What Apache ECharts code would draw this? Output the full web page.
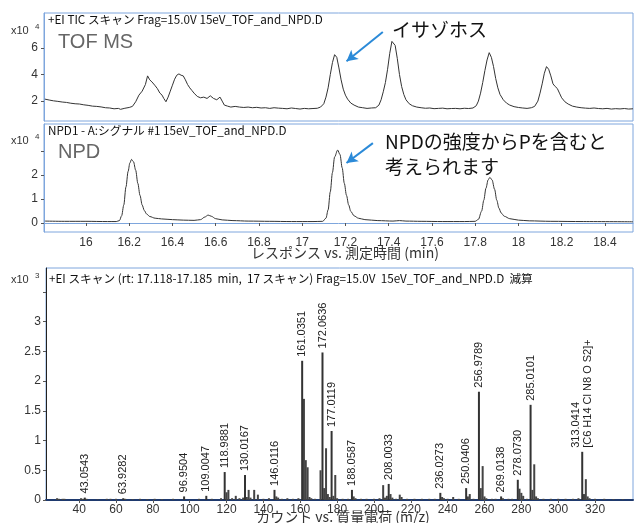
<!DOCTYPE html>
<html>
<head>
<meta charset="utf-8">
<script src="https://cdn.jsdelivr.net/npm/echarts@6/dist/echarts.min.js"></script>
<style>
  html,body{margin:0;padding:0;background:#fff;}
  #chart{width:634px;height:523px;}
</style>
</head>
<body>
<div id="chart"></div>
<script>
// TIC (TOF MS) trace, x10^4 : [min, response]
const tofTrace = [
  [15.81,2.15],[15.83,2.08],[15.85,2.02],[15.87,1.98],[15.89,1.93],[15.91,1.9],[15.93,1.84],[15.95,1.8],
  [15.97,1.78],[15.99,1.72],[16.01,1.68],[16.03,1.62],[16.05,1.6],[16.07,1.56],[16.09,1.5],[16.11,1.48],
  [16.13,1.42],[16.15,1.45],[16.16,1.38],[16.18,1.46],[16.2,1.52],[16.215,1.6],[16.23,1.95],[16.245,2.45],
  [16.26,2.75],[16.275,3.25],[16.285,3.9],[16.295,3.6],[16.305,3.45],[16.318,3.2],[16.33,2.95],[16.342,2.6],
  [16.352,2.45],[16.36,2.2],[16.37,1.95],[16.38,2.3],[16.39,2.75],[16.4,3.2],[16.41,3.65],[16.42,3.95],
  [16.43,4.05],[16.44,3.95],[16.45,3.9],[16.46,3.6],[16.47,3.25],[16.48,3.0],[16.49,2.8],[16.5,2.6],
  [16.515,2.35],[16.53,2.25],[16.545,2.3],[16.56,2.2],[16.575,2.4],[16.59,2.2],[16.605,2.1],[16.62,2.3],
  [16.63,2.0],[16.64,1.7],[16.655,1.62],[16.67,1.55],[16.69,1.6],[16.71,1.55],[16.73,1.52],[16.75,1.55],
  [16.77,1.5],[16.79,1.53],[16.81,1.48],[16.83,1.5],[16.85,1.45],[16.87,1.5],[16.89,1.47],[16.91,1.45],
  [16.93,1.42],[16.95,1.48],[16.97,1.44],[16.99,1.4],[17.01,1.45],[17.03,1.42],[17.05,1.44],[17.07,1.46],
  [17.085,1.55],[17.1,1.8],[17.11,2.3],[17.12,3.0],[17.13,4.0],[17.14,4.9],[17.15,5.5],[17.16,5.3],
  [17.17,4.5],[17.18,3.6],[17.19,2.9],[17.2,2.45],[17.21,2.15],[17.225,1.85],[17.24,1.7],[17.26,1.55],
  [17.28,1.5],[17.3,1.45],[17.32,1.48],[17.34,1.5],[17.355,1.7],[17.365,2.1],[17.375,2.7],[17.385,3.4],
  [17.395,4.4],[17.405,5.6],[17.415,6.5],[17.42,6.6],[17.43,6.2],[17.44,5.2],[17.45,4.0],[17.46,3.1],
  [17.47,2.5],[17.48,2.1],[17.495,1.8],[17.51,1.65],[17.53,1.55],[17.55,1.5],[17.57,1.46],[17.59,1.48],
  [17.61,1.43],[17.63,1.45],[17.65,1.47],[17.67,1.42],[17.69,1.44],[17.71,1.45],[17.73,1.42],[17.75,1.46],
  [17.77,1.44],[17.79,1.48],[17.805,1.65],[17.815,2.0],[17.825,2.6],[17.835,3.4],[17.845,4.3],[17.855,5.1],
  [17.865,5.65],[17.875,5.3],[17.885,4.6],[17.895,3.7],[17.905,3.0],[17.915,2.5],[17.93,2.1],[17.945,1.85],
  [17.96,1.7],[17.98,1.58],[18.0,1.52],[18.02,1.48],[18.04,1.45],[18.06,1.5],[18.075,1.6],[18.09,2.0],
  [18.1,2.6],[18.11,3.3],[18.12,4.1],[18.13,4.6],[18.14,4.4],[18.15,3.9],[18.16,3.3],[18.17,3.1],
  [18.18,2.95],[18.19,2.6],[18.2,2.25],[18.215,1.95],[18.23,1.78],[18.25,1.62],[18.27,1.55],[18.29,1.5],
  [18.31,1.47],[18.33,1.45],[18.35,1.48],[18.37,1.44],[18.39,1.42],[18.41,1.45],[18.43,1.4],[18.45,1.43],
  [18.47,1.41],[18.49,1.44],[18.51,1.4],[18.53,1.42]
]
// NPD signal, x10^4 : [min, response]
const npdTrace = [
  [15.81,0.08],[15.9,0.07],[16.0,0.07],[16.1,0.06],[16.14,0.06],[16.155,0.1],[16.165,0.3],[16.175,0.75],
  [16.185,1.5],[16.195,2.15],[16.203,2.5],[16.211,2.65],[16.22,2.55],[16.23,2.2],[16.24,1.65],[16.25,1.15],
  [16.26,0.75],[16.27,0.52],[16.28,0.38],[16.295,0.27],[16.32,0.2],[16.35,0.17],[16.4,0.14],[16.45,0.12],
  [16.5,0.11],[16.53,0.14],[16.55,0.25],[16.565,0.33],[16.58,0.28],[16.6,0.18],[16.63,0.13],[16.68,0.1],
  [16.75,0.08],[16.85,0.07],[16.95,0.06],[17.05,0.06],[17.095,0.07],[17.11,0.2],[17.12,0.55],[17.13,1.3],
  [17.14,2.1],[17.15,2.75],[17.164,3.04],[17.175,2.85],[17.185,2.3],[17.195,1.65],[17.205,1.15],[17.215,0.75],
  [17.225,0.48],[17.24,0.3],[17.26,0.2],[17.29,0.14],[17.35,0.1],[17.42,0.08],[17.45,0.1],[17.48,0.08],
  [17.55,0.07],[17.65,0.06],[17.75,0.06],[17.8,0.07],[17.815,0.15],[17.83,0.5],[17.84,0.95],[17.85,1.45],
  [17.86,1.8],[17.868,1.9],[17.878,1.8],[17.89,1.4],[17.9,0.95],[17.91,0.62],[17.92,0.42],[17.935,0.28],
  [17.96,0.18],[18.0,0.12],[18.05,0.09],[18.15,0.07],[18.3,0.06],[18.53,0.05]
]
const timeTicks = [16,16.2,16.4,16.6,16.8,17,17.2,17.4,17.6,17.8,18,18.2,18.4]
const tofTicks = [2,4,6]
const npdTicks = [0,1,2]

// mass spectrum, x10^3 counts
const peakMz = [43.0543,63.9282,96.9504,109.0047,118.9881,130.0167,146.0116,161.0351,172.0636,177.0119,
  188.0587,208.0033,236.0273,250.0406,256.9789,269.0138,278.0730,285.0101,313.0414]
const peakInt = [0.04,0.03,0.06,0.07,0.47,0.42,0.17,2.34,2.48,1.16,0.17,0.27,0.12,0.2,1.82,0.06,0.34,1.6,0.81]
const peakText = ['43.0543','63.9282','96.9504','109.0047','118.9881','130.0167','146.0116','161.0351','172.0636',
  '177.0119','188.0587','208.0033','236.0273','250.0406','256.9789','269.0138','278.0730','285.0101',
  '313.0414\n[C6 H14 Cl N8 O S2]+']
const otherMz = [28,29,31,32,41,42,44,50,55,57,60,65,69,73,77,81,85,91,105,112,117,120,121,123,125,127,129,131,
  132,133,135,137,140,143,147,148,150,153,156,159,162,163,164,165,166,168,171,173,174,175,176,178,179,180,
  183,186,189,190,193,196,200,203,205,206,207,209,210,212,214,215,218,222,226,230,233,237,238,240,243,246,
  251,252,254,258,259,260,261,264,266,270,273,275,279,280,281,283,286,287,288,289,292,296,300,304,308,311,
  314,315,316,317,320,325,330,335]
const otherInt = [0.03,0.02,0.02,0.02,0.03,0.02,0.02,0.01,0.02,0.02,0.02,0.02,0.015,0.02,0.015,0.02,0.015,0.02,
  0.02,0.02,0.03,0.13,0.17,0.03,0.07,0.03,0.04,0.05,0.17,0.04,0.17,0.09,0.02,0.03,0.06,0.04,0.02,0.03,0.02,
  0.03,1.7,0.67,0.55,0.05,0.03,0.02,0.5,0.2,0.87,0.1,0.05,0.07,0.42,0.03,0.02,0.02,0.06,0.03,0.02,0.02,0.02,
  0.03,0.25,0.04,0.07,0.1,0.04,0.02,0.09,0.05,0.02,0.02,0.02,0.02,0.02,0.05,0.03,0.02,0.05,0.02,0.06,0.1,
  0.02,0.2,0.57,0.06,0.03,0.02,0.02,0.03,0.02,0.02,0.19,0.12,0.07,0.02,0.17,0.6,0.06,0.03,0.02,0.02,0.02,
  0.02,0.02,0.03,0.1,0.35,0.06,0.03,0.02,0.02,0.015,0.015]
const mzTicks = [40,60,80,100,120,140,160,180,200,220,240,260,280,300,320]
const countTicks = [0,0.5,1,1.5,2,2.5,3]

const FONT = '"Liberation Sans", Arial, "Noto Sans CJK JP", sans-serif'
const JP = '"Noto Sans CJK JP", sans-serif'
const BORDER = '#7ea6dd'
const ARROW = '#2b8ad8'

let chart = echarts.init(document.getElementById('chart'))

function txt(x, y, text, size, color, font, align) {
  return { type: 'text', x: x, y: y, style: { text: text, fontSize: size, fill: color || '#222',
    fontFamily: font || JP, verticalAlign: 'middle', align: align || 'left' } }
}

let axisLab = { fontSize: 12, color: '#333', fontFamily: FONT }

let option = {
  animation: false,
  grid: [
    { left: 44, top: 13, right: 1, height: 108, show: true, borderColor: BORDER, borderWidth: 1 },
    { left: 44, top: 124, right: 1, height: 108, show: true, borderColor: BORDER, borderWidth: 1 },
    { left: 46, top: 268, right: 1, height: 232, show: true, borderColor: BORDER, borderWidth: 1 }
  ],
  xAxis: [
    { type: 'value', gridIndex: 0, min: 15.806, max: 18.53, axisLine: { show: false }, axisTick: { show: false },
      axisLabel: { show: false }, splitLine: { show: false } },
    { type: 'value', gridIndex: 1, min: 15.806, max: 18.53,
      axisLine: { show: true, lineStyle: { color: BORDER } },
      axisTick: { show: true, length: 3, customValues: timeTicks, lineStyle: { color: '#555' } },
      axisLabel: Object.assign({ customValues: timeTicks, margin: 5 }, axisLab),
      splitLine: { show: false } },
    { type: 'value', gridIndex: 2, min: 22, max: 340.6,
      axisLine: { show: true, lineStyle: { color: '#1f3a6e', width: 2 } },
      axisTick: { show: true, length: 3, customValues: mzTicks, lineStyle: { color: '#555' } },
      axisLabel: Object.assign({ customValues: mzTicks, margin: 4 }, axisLab),
      splitLine: { show: false } }
  ],
  yAxis: [
    { type: 'value', gridIndex: 0, min: 0.5, max: 8.64,
      axisLine: { show: true, lineStyle: { color: BORDER } },
      axisTick: { show: true, length: 3, customValues: tofTicks, lineStyle: { color: '#555' } },
      axisLabel: Object.assign({ customValues: tofTicks, margin: 6 }, axisLab),
      splitLine: { show: false } },
    { type: 'value', gridIndex: 1, min: -0.375, max: 4.125,
      axisLine: { show: true, lineStyle: { color: BORDER } },
      axisTick: { show: true, length: 3, customValues: [0, 1, 2, 3], lineStyle: { color: '#555' } },
      axisLabel: Object.assign({ customValues: npdTicks, margin: 6 }, axisLab),
      splitLine: { show: false } },
    { type: 'value', gridIndex: 2, min: 0, max: 3.9,
      axisLine: { show: true, lineStyle: { color: '#222', width: 1 } },
      axisTick: { show: true, length: 3, customValues: countTicks.concat([3.5]), lineStyle: { color: '#555' } },
      axisLabel: Object.assign({ customValues: countTicks, margin: 5 }, axisLab),
      splitLine: { show: false } }
  ],
  series: [
    { type: 'line', xAxisIndex: 0, yAxisIndex: 0, data: tofTrace, showSymbol: false,
      lineStyle: { color: '#333', width: 1 },
      markLine: { silent: true, symbol: ['none', 'arrow'], symbolSize: [9, 11], label: { show: false },
        lineStyle: { color: ARROW, width: 2, type: 'solid' },
        data: [[{ coord: [17.373, 7.21] }, { coord: [17.205, 5.0] }]] } },
    { type: 'line', xAxisIndex: 1, yAxisIndex: 1, data: npdTrace, showSymbol: false,
      smooth: 0.3, smoothMonotone: 'x',
      lineStyle: { color: '#333', width: 1 },
      markLine: { silent: true, symbol: ['none', 'arrow'], symbolSize: [9, 11], label: { show: false },
        lineStyle: { color: ARROW, width: 2, type: 'solid' },
        data: [[{ coord: [17.327, 3.33] }, { coord: [17.205, 2.5] }]] } },
    { type: 'bar', xAxisIndex: 2, yAxisIndex: 2, barWidth: 2, barGap: '-100%',
      itemStyle: { color: '#444' },
      data: otherMz.map((m, i) => [m, otherInt[i]]) },
    { type: 'bar', xAxisIndex: 2, yAxisIndex: 2, barWidth: 2, barGap: '-100%',
      itemStyle: { color: '#333' },
      label: { show: true, position: 'top', rotate: 90, align: 'left', verticalAlign: 'middle', distance: 4,
        fontSize: 11, color: '#222', fontFamily: FONT, lineHeight: 12,
        formatter: p => peakText[p.dataIndex] },
      data: peakMz.map((m, i) => [m, peakInt[i]]) }
  ],
  graphic: [
    txt(48, 20, '+EI TIC スキャン Frag=15.0V 15eV_TOF_and_NPD.D', 11.7, '#111'),
    txt(58, 42, 'TOF MS', 20, '#666', FONT),
    txt(11, 31, 'x10', 11, '#333', FONT),
    txt(35, 27, '4', 8, '#333', FONT),
    txt(392, 30, 'イサゾホス', 19, '#111'),
    txt(48, 131, 'NPD1 - A:シグナル #1 15eV_TOF_and_NPD.D', 11.7, '#111'),
    txt(58, 152, 'NPD', 20, '#666', FONT),
    txt(11, 141, 'x10', 11, '#333', FONT),
    txt(35, 137, '4', 8, '#333', FONT),
    txt(385, 142, 'NPDの強度からPを含むと', 19, '#111'),
    txt(385, 167, '考えられます', 19, '#111'),
    txt(345, 253, 'レスポンス vs. 測定時間 (min)', 14, '#333', JP, 'center'),
    txt(49, 279, '+EI スキャン (rt: 17.118-17.185  min,  17 スキャン) Frag=15.0V  15eV_TOF_and_NPD.D  減算', 11.7, '#111'),
    txt(11, 280, 'x10', 11, '#333', FONT),
    txt(35, 276, '3', 8, '#333', FONT),
    txt(343, 517, 'カウント vs. 質量電荷 (m/z)', 14, '#333', JP, 'center')
  ]
}
chart.setOption(option)
</script>
</body>
</html>
